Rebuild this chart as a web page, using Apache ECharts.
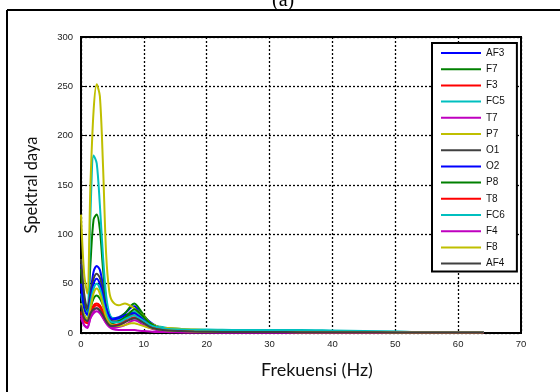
<!DOCTYPE html>
<html>
<head>
<meta charset="utf-8">
<script src="https://cdn.jsdelivr.net/npm/echarts@6/dist/echarts.min.js"></script>
<style>html,body{margin:0;padding:0;background:#fff;}#c{width:560px;height:392px;}</style>
</head>
<body>
<div id="c"></div>
<script>
// Frequency samples (Hz)
var freq = [0,0.5,1,1.5,2,2.5,3,3.5,4,4.5,5,6,7,8,8.5,9,10,11,12,13,14,16,18,20,25,30,35,40,45,50,55,60,64];
var channels = ['AF3','F7','F3','FC5','T7','P7','O1','O2','P8','T8','FC6','F4','F8','AF4'];
var AF3 = [70,35,22,40,62,68,64,48,28,18,15,16,20,26,27,24,17,11,7,5,4,3,2.5,2,1.5,1.5,1,1,1,0.8,0.8,0.7,0.7];
var F7  = [65,30,20,70,115,120,105,65,32,18,14,15,20,28,30,27,18,10,7,5,4,3,2.5,2,1.5,1.2,1,1,0.8,0.8,0.7,0.7,0.7];
var F3  = [22,15,12,20,28,30,28,22,14,10,8,9,13,18,20,18,13,8,5,4,3,2,1.5,1.2,1,1,0.8,0.8,0.7,0.6,0.6,0.5,0.5];
var FC5 = [40,25,20,120,180,172,130,78,38,20,15,14,16,20,22,20,15,10,7,6,5,4,3.5,3.5,3,3,3,2.5,2,1.5,1,1,1];
var T7  = [15,8,5,15,22,25,22,16,10,6,4,3,3,3,3,2.5,2,1.5,1,1,0.8,0.6,0.5,0.5,0.5,0.5,0.5,0.4,0.4,0.4,0.4,0.4,0.4];
var P7  = [120,60,40,150,225,252,240,170,80,42,32,28,30,27,25,22,17,10,7,5,5,4,3.5,3,2,2,1.5,1.5,1,1,1,1,1];
var O1  = [75,40,25,40,55,60,56,42,25,16,12,12,15,19,20,18,13,8,6,4,3,2.5,2,1.8,1.5,1.2,1,1,1,0.8,0.8,0.8,0.8];
var O2  = [50,25,18,35,50,55,50,38,25,17,14,15,18,20,20,18,13,8,6,4,3,2.5,2,1.8,1.5,1.2,1,1,1,0.8,0.8,0.8,0.8];
var P8  = [30,18,14,25,35,38,35,28,18,12,10,12,16,22,24,22,16,10,6,4,3,2.5,2,1.8,1.5,1.2,1,1,1,0.8,0.8,0.8,0.8];
var T8  = [20,12,10,20,26,28,26,20,13,9,7,8,11,15,16,15,11,7,5,3,3,2,1.5,1.2,1,1,0.8,0.8,0.7,0.6,0.6,0.5,0.5];
var FC6 = [30,18,14,30,45,50,45,32,20,13,11,11,14,17,18,16,12,8,6,5,4,3.5,3,3,2.5,2.5,2.5,2,1.5,1.2,1,1,1];
var F4  = [18,8,6,15,20,22,20,15,10,7,5,6,8,12,13,12,8,5,3,2,1.5,1,0.8,0.7,0.5,0.5,0.5,0.4,0.4,0.4,0.4,0.4,0.4];
var F8  = [30,18,14,25,40,45,40,28,16,10,8,7,8,10,10,9,7,5,4,3,2.5,2,1.5,1.2,1,1,0.8,0.8,0.7,0.6,0.6,0.5,0.5];
var AF4 = [28,15,12,20,24,25,23,18,12,8,7,8,11,14,15,14,10,6,4,3,2.5,2,1.5,1.2,1,1,0.8,0.8,0.7,0.6,0.6,0.5,0.5];
var values = [AF3,F7,F3,FC5,T7,P7,O1,O2,P8,T8,FC6,F4,F8,AF4];
var colors = ['#0000ff','#008000','#ff0000','#00bfbf','#bf00bf','#bfbf00','#404040',
              '#0000ff','#008000','#ff0000','#00bfbf','#bf00bf','#bfbf00','#404040'];
var xTicks = [0,10,20,30,40,50,60,70];
var yTicks = [0,50,100,150,200,250,300];

var series = channels.map(function(name, i){
  return {
    name: name, type: 'line', symbol: 'none', smooth: 0.3,
    data: freq.map(function(f, j){ return [f, values[i][j]]; }),
    lineStyle: {width: 2, color: colors[i]}, itemStyle: {color: colors[i]},
    animation: false
  };
});

var chart = echarts.init(document.getElementById('c'));
chart.setOption({
  animation: false,
  color: colors,
  grid: {left: 81, right: 39, top: 37, bottom: 59, show: true, borderColor: '#000', borderWidth: 2, backgroundColor: 'transparent'},
  xAxis: {
    type: 'value', min: xTicks[0], max: xTicks[xTicks.length-1], interval: 10,
    name: 'Frekuensi (Hz)', nameLocation: 'middle', nameGap: 28,
    nameTextStyle: {fontFamily: 'Lato', fontSize: 18, color: '#111', padding: [0,0,0,32]},
    axisLine: {show: true, lineStyle: {color: '#000', width: 2}},
    axisTick: {show: true, inside: true, length: 4, lineStyle: {color: '#000'}},
    axisLabel: {fontFamily: 'Liberation Sans', fontSize: 9.5, color: '#222', margin: 6},
    splitLine: {show: true, lineStyle: {color: '#000', type: [2,2], width: 1.3}}
  },
  yAxis: {
    type: 'value', min: yTicks[0], max: yTicks[yTicks.length-1], interval: 50,
    name: 'Spektral daya', nameLocation: 'middle', nameGap: 41,
    nameTextStyle: {fontFamily: 'Lato', fontSize: 16.5, color: '#111'},
    axisLine: {show: true, lineStyle: {color: '#000', width: 2}},
    axisTick: {show: true, inside: true, length: 4, lineStyle: {color: '#000'}},
    axisLabel: {fontFamily: 'Liberation Sans', fontSize: 9.5, color: '#222', margin: 8},
    splitLine: {show: true, lineStyle: {color: '#000', type: [2,2], width: 1.3}}
  },
  legend: {
    orient: 'vertical', left: 432, top: 43,
    data: channels,
    icon: 'rect', itemWidth: 40, itemHeight: 2, itemGap: 6.2,
    textStyle: {fontFamily: 'Liberation Sans', fontSize: 10, color: '#111', lineHeight: 10},
    padding: [5, 12, 3, 9],
    borderColor: '#000', borderWidth: 2, backgroundColor: '#fff'
  },
  graphic: [
    {type: 'line', shape: {x1: 7, y1: 10, x2: 7, y2: 392}, style: {stroke: '#000', lineWidth: 2}},
    {type: 'line', shape: {x1: 7, y1: 10, x2: 560, y2: 10}, style: {stroke: '#000', lineWidth: 2}},
    {type: 'text', left: 272, top: -9, style: {text: '(a)', font: '20px "Liberation Serif"', fill: '#000'}}
  ],
  series: series
});
</script>
</body>
</html>
